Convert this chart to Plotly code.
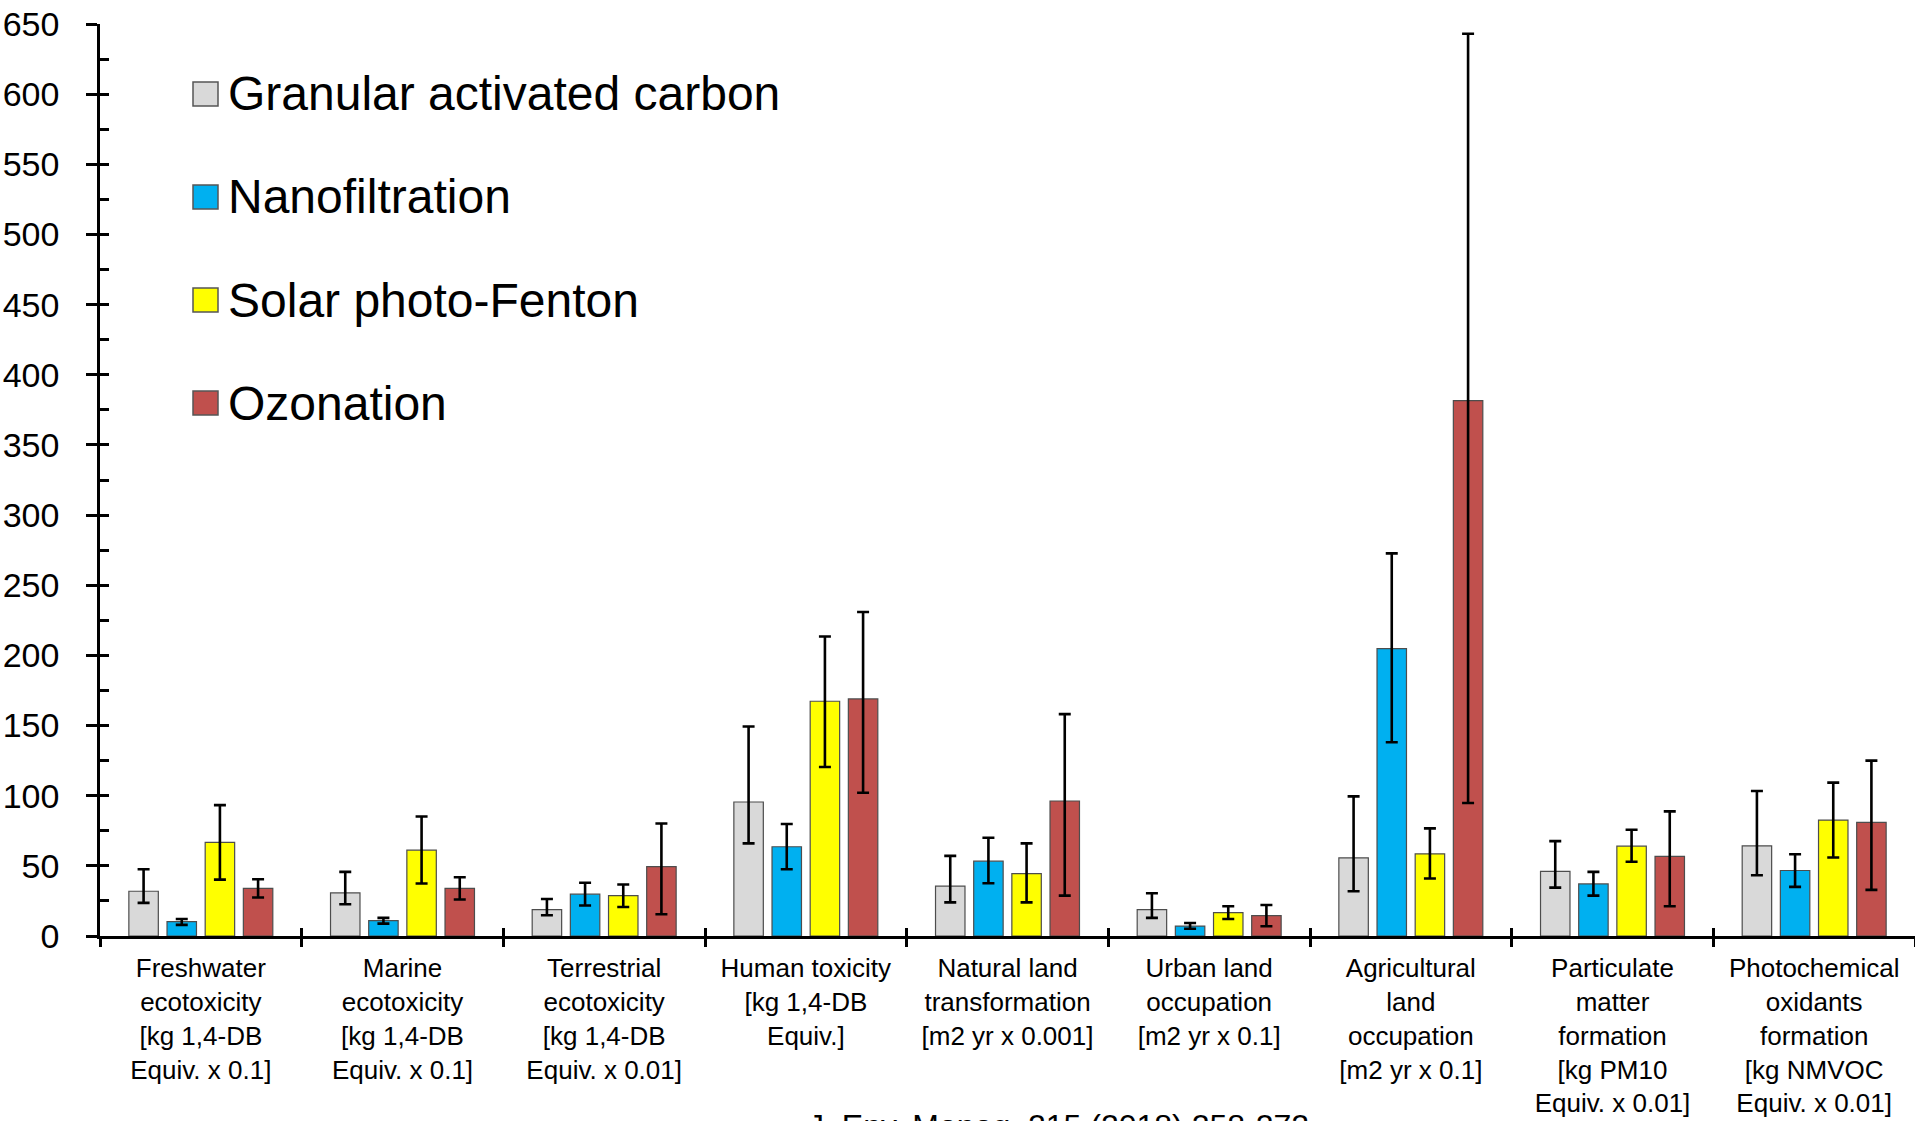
import plotly.graph_objects as go

categories = [
    "Freshwater<br>ecotoxicity<br>[kg 1,4-DB<br>Equiv. x 0.1]",
    "Marine<br>ecotoxicity<br>[kg 1,4-DB<br>Equiv. x 0.1]",
    "Terrestrial<br>ecotoxicity<br>[kg 1,4-DB<br>Equiv. x 0.01]",
    "Human toxicity<br>[kg 1,4-DB<br>Equiv.]",
    "Natural land<br>transformation<br>[m2 yr x 0.001]",
    "Urban land<br>occupation<br>[m2 yr x 0.1]",
    "Agricultural<br>land<br>occupation<br>[m2 yr x 0.1]",
    "Particulate<br>matter<br>formation<br>[kg PM10<br>Equiv. x 0.01]",
    "Photochemical<br>oxidants<br>formation<br>[kg NMVOC<br>Equiv. x 0.01]",
]

series_names = ["Granular activated carbon", "Nanofiltration", "Solar photo-Fenton", "Ozonation"]
series_colors = ["#D9D9D9", "#00B0F0", "#FFFF00", "#C0504D"]

gac_values = [31.9, 30.7, 18.8, 95.5, 35.5, 18.8, 55.7, 46.0, 64.3]
gac_upper = [47.6, 45.7, 26.4, 149.3, 57.1, 30.5, 99.5, 67.6, 103.3]
gac_lower = [23.6, 22.6, 14.8, 66.0, 24.0, 12.9, 31.9, 34.5, 43.3]

nf_values = [10.2, 11.0, 29.8, 63.6, 53.3, 7.1, 204.8, 37.1, 46.7]
nf_upper = [12.1, 12.9, 37.9, 79.8, 70.0, 9.3, 272.7, 45.7, 58.3]
nf_lower = [7.9, 8.8, 21.7, 47.6, 37.6, 5.2, 138.1, 28.8, 35.0]

spf_values = [66.7, 61.2, 28.8, 167.3, 44.5, 16.7, 58.6, 64.0, 82.6]
spf_upper = [93.3, 85.2, 36.7, 213.5, 66.0, 21.2, 76.7, 75.7, 109.3]
spf_lower = [40.2, 37.4, 20.7, 120.5, 24.0, 12.1, 41.0, 52.9, 56.0]

oz_values = [34.0, 34.0, 49.5, 169.0, 96.2, 14.5, 381.6, 56.7, 81.0]
oz_upper = [40.5, 41.9, 80.2, 230.9, 158.1, 22.1, 643.0, 88.8, 125.0]
oz_lower = [27.4, 26.0, 15.5, 102.1, 28.8, 6.9, 94.8, 21.2, 32.9]

y_tick_values = list(range(0, 651, 50))
caption = "J. Env. Manag. 215 (2018) 258-272"

all_values = [gac_values, nf_values, spf_values, oz_values]
all_upper = [gac_upper, nf_upper, spf_upper, oz_upper]
all_lower = [gac_lower, nf_lower, spf_lower, oz_lower]

W, H = 1915, 1121
ML, MR, MT, MB = 100, 0, 24, 185
PW, PH = W - ML - MR, H - MT - MB


def px_x(px):
    return (px - ML) / PW


def px_y(py):
    return (H - MB - py) / PH


FONT = "Liberation Sans, Arial, sans-serif"

fig = go.Figure()
for name, color, vals, up, lo in zip(series_names, series_colors, all_values, all_upper, all_lower):
    fig.add_trace(go.Bar(
        name=name,
        x=categories,
        y=vals,
        marker=dict(color=color, line=dict(color="#4d4d4d", width=1.2)),
        error_y=dict(
            type="data",
            symmetric=False,
            array=[u - v for u, v in zip(up, vals)],
            arrayminus=[v - l for v, l in zip(vals, lo)],
            color="black",
            thickness=2.6,
            width=6,
        ),
        showlegend=False,
    ))

# manual legend (large square swatches)
legend_rows_px = [94, 197, 300, 403]
shapes = []
annotations = []
for name, color, cy in zip(series_names, series_colors, legend_rows_px):
    shapes.append(dict(
        type="rect", xref="paper", yref="paper",
        x0=px_x(193), x1=px_x(218), y0=px_y(cy + 12), y1=px_y(cy - 12),
        fillcolor=color, line=dict(color="#555555", width=1.5),
    ))
    annotations.append(dict(
        xref="paper", yref="paper", x=px_x(226), y=px_y(cy),
        xanchor="left", yanchor="middle", showarrow=False,
        text=name, font=dict(family=FONT, size=48, color="black"),
    ))

annotations.append(dict(
    xref="paper", yref="paper", x=px_x(1058), y=px_y(1106),
    xanchor="center", yanchor="top", showarrow=False,
    text=caption, font=dict(family=FONT, size=32, color="black"),
))

fig.update_layout(
    width=W, height=H,
    margin=dict(l=ML, r=MR, t=MT, b=MB, pad=0, autoexpand=False),
    paper_bgcolor="white", plot_bgcolor="white",
    barmode="group", bargap=0.243, bargroupgap=0.228,
    font=dict(family=FONT, color="black"),
    shapes=shapes,
    annotations=annotations,
    xaxis=dict(
        type="category", automargin=False,
        range=[-0.5, len(categories) - 0.5],
        showline=True, linecolor="black", linewidth=3,
        ticks="outside", tickson="boundaries", ticklen=8, tickwidth=2.5, tickcolor="black",
        ticklabelstandoff=7,
        tickfont=dict(family=FONT, size=26, color="black"),
        showgrid=False, zeroline=False,
    ),
    xaxis2=dict(
        overlaying="x", anchor="y", side="bottom", automargin=False,
        range=[-0.5, len(categories) - 0.5],
        tick0=0.5, dtick=1,
        ticks="inside", ticklen=8, tickwidth=2.5, tickcolor="black",
        showticklabels=False, showgrid=False, zeroline=False, showline=False,
    ),
    yaxis=dict(
        range=[0, 650], automargin=False,
        tickvals=y_tick_values,
        showline=True, linecolor="black", linewidth=2.5,
        ticks="outside", ticklen=11, tickwidth=2.5, tickcolor="black",
        ticklabelstandoff=20,
        tickfont=dict(family=FONT, size=34, color="black"),
        showgrid=False, zeroline=False,
    ),
    yaxis2=dict(
        overlaying="y", anchor="x", side="left", automargin=False,
        range=[0, 650], tick0=0, dtick=25,
        ticks="inside", ticklen=9, tickwidth=2.5, tickcolor="black",
        showticklabels=False, showgrid=False, zeroline=False, showline=False,
    ),
)

fig.add_trace(go.Scatter(x=[], y=[], xaxis="x2", yaxis="y2", showlegend=False, hoverinfo="skip"))

fig.write_html("out.html")
